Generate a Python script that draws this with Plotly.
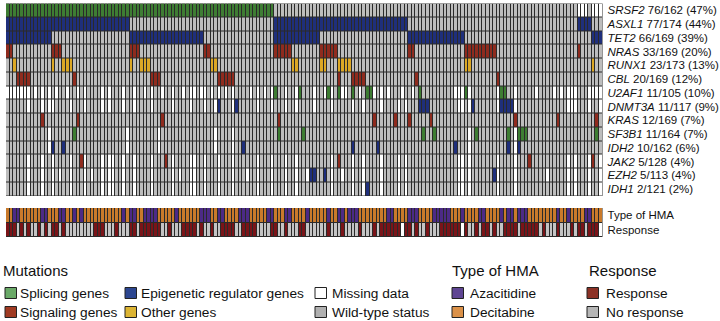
import plotly.graph_objects as go

W, H = 720, 321
N = 169

genes = ["SRSF2", "ASXL1", "TET2", "NRAS", "RUNX1", "CBL", "U2AF1", "DNMT3A",
         "KRAS", "SF3B1", "IDH2", "JAK2", "EZH2", "IDH1"]
stats = ["76/162 (47%)", "77/174 (44%)", "66/169 (39%)", "33/169 (20%)", "23/173 (13%)",
         "20/169 (12%)", "11/105 (10%)", "11/117 (9%)", "12/169 (7%)", "11/164 (7%)",
         "10/162 (6%)", "5/128 (4%)", "5/113 (4%)", "2/121 (2%)"]
gene_class = ["S", "E", "E", "K", "O", "K", "S", "E", "K", "S", "E", "K", "E", "E"]

def r(a, b):
    return list(range(a, b + 1))

mutated = {
    "SRSF2": r(0, 75),
    "ASXL1": r(0, 34) + r(76, 113) + r(162, 165),
    "TET2": r(0, 12) + r(35, 55) + r(76, 88) + r(114, 129) + r(166, 168),
    "NRAS": [0, 1, 13, 14, 15, 35, 36, 37, 56, 57] + r(76, 80) + r(89, 93) + [114, 115] + r(130, 138) + [162],
    "RUNX1": [2, 13, 16, 17, 18, 35, 38, 39, 40, 58, 59, 81, 82, 89, 90, 94, 95, 96, 97, 130, 131, 166],
    "CBL": [3, 4, 5, 6, 19, 41, 42, 43] + r(60, 64) + [94, 98, 99, 100, 101, 116, 139],
    "U2AF1": [76, 83, 91, 94, 98, 102, 103, 117, 130, 140, 141],
    "DNMT3A": [60, 65, 117, 118, 119, 132, 140, 141, 142, 143],
    "KRAS": [10, 20, 44, 77, 104, 110, 114, 120, 144, 156, 167],
    "SF3B1": [19, 77, 84, 118, 121, 133, 142, 145, 146, 147, 167],
    "IDH2": [13, 16, 67, 98, 105, 127, 142, 145],
    "JAK2": [21, 45, 94, 148, 166],
    "EZH2": [86, 87, 90, 138],
    "IDH1": [102],
}

missing = {
    "SRSF2": [162, 163, 164, 166, 167, 168],
    "ASXL1": [], "TET2": [], "NRAS": [], "RUNX1": [], "CBL": [],
    "U2AF1": [0, 1, 2, 3, 4, 5, 6, 8, 10, 12, 14, 17, 20, 22, 27, 29, 33, 36, 39, 41, 44, 47, 50, 52, 53,
              55, 56, 58, 60, 62, 64, 69, 71, 73, 75, 79, 82, 87, 90, 92, 95, 96, 100, 104, 106, 108, 112, 115,
              127, 128, 129, 131, 139, 144, 150, 155, 157, 159, 160, 161, 165, 166, 167, 168],
    "DNMT3A": [6, 10, 12, 13, 18, 22, 27, 29, 33, 36, 41, 47, 52, 56, 59, 64, 71, 75, 79, 82, 87, 92, 98, 101,
               106, 111, 113, 128, 129, 131, 139, 144, 159, 160, 161, 165, 168],
    "KRAS": [],
    "SF3B1": [12, 34, 43, 59, 64, 131, 144],
    "IDH2": [12, 34, 43, 59, 64, 131, 144],
    "JAK2": [6, 10, 13, 18, 22, 27, 29, 30, 33, 36, 41, 47, 52, 53, 56, 60, 64, 71, 75, 79, 82, 92, 98, 101,
             106, 111, 113, 128, 129, 131, 139, 144, 159, 161, 165, 168],
    "EZH2": [6, 10, 13, 15, 18, 22, 24, 27, 29, 30, 33, 36, 41, 47, 49, 52, 53, 56, 60, 64, 68, 71, 75, 79, 82,
             85, 92, 95, 98, 101, 106, 111, 113, 128, 129, 131, 139, 144, 153, 159, 161, 165, 168],
    "IDH1": [6, 10, 13, 18, 22, 27, 29, 30, 33, 36, 41, 47, 52, 53, 56, 60, 64, 71, 75, 79, 82, 92, 98, 101,
             106, 111, 113, 128, 129, 131, 139, 144, 159, 161, 165, 168],
}

azacitidine = [2, 3, 10, 11, 15, 16, 19, 21, 33, 35, 36, 39, 40, 41, 42, 48, 55, 56, 57, 60, 61, 66, 67, 68,
               74, 75, 79, 80, 85, 91, 94, 95, 97, 98, 99, 108, 109, 114, 115, 116, 121, 122, 123, 124, 125,
               129, 134, 135, 140, 142, 143, 145, 146, 147, 156, 159, 164, 165]
no_response = [3, 5, 7, 8, 10, 12, 15] + r(17, 24) + [28, 29, 30, 32, 33, 34, 37, 44, 45, 47, 48, 49, 54, 56, 57,
               59, 60, 65, 66, 71, 72, 73, 74, 77, 78, 80, 81, 82] + r(85, 90) + [92, 93, 94, 96, 97, 98, 99,
               101, 102, 103, 105, 115, 117, 118, 120, 121, 122, 131, 132, 134, 137, 139, 140, 145, 151,
               153, 154, 155, 157, 158, 159, 161, 164]
response_missing = [112, 129, 168]

# cell codes: 0 wild-type, 1 missing, 2 splicing, 3 epigenetic, 4 signaling, 5 other
class_code = {"S": 2, "E": 3, "K": 4, "O": 5}
z_mut = []
for g, c in zip(genes, gene_class):
    row = [0] * N
    for i in missing[g]:
        row[i] = 1
    for i in mutated[g]:
        row[i] = class_code[c]
    z_mut.append(row)

# lower block: 0 no response, 1 missing, 2 response, 3 azacitidine, 4 decitabine
z_hma = [3 if i in azacitidine else 4 for i in range(N)]
z_resp = [1 if i in response_missing else 0 if i in no_response else 2 for i in range(N)]

def steps(cols):
    n = len(cols)
    out = []
    for i, c in enumerate(cols):
        out += [[i / n, c], [(i + 1) / n, c]]
    return out

mut_colors = ["#bdbdbd", "#ffffff", "#3e7d33", "#1f2f7c", "#8f2b1e", "#dca826"]
low_colors = ["#c4c4c4", "#ffffff", "#7a1418", "#4c2a86", "#c97a2b"]
GRID = "#2a2a2a"
PLOT_L, PLOT_R = 6, 602.5

fig = go.Figure()
fig.add_trace(go.Heatmap(z=z_mut, zmin=-0.5, zmax=5.5, colorscale=steps(mut_colors), showscale=False,
                         xgap=1, ygap=1, xaxis="x", yaxis="y", hoverinfo="skip"))
fig.add_trace(go.Heatmap(z=[z_hma, z_resp], zmin=-0.5, zmax=4.5, colorscale=steps(low_colors), showscale=False,
                         xgap=1, ygap=1, xaxis="x2", yaxis="y2", hoverinfo="skip"))

label_font = dict(family="Liberation Sans", size=11.5, color="#111111")
gene_ticks = ["<i>%s</i> %s" % (g, s) for g, s in zip(genes, stats)]

def ydom(top, bottom):
    return [1 - bottom / H, 1 - top / H]

xdom = [PLOT_L / W, PLOT_R / W]
fig.update_layout(
    width=W, height=H, margin=dict(l=0, r=0, t=0, b=0), paper_bgcolor="white", plot_bgcolor=GRID,
    xaxis=dict(domain=xdom, range=[-0.5, N - 0.5], visible=False, fixedrange=True),
    xaxis2=dict(domain=xdom, range=[-0.5, N - 0.5], visible=False, fixedrange=True, anchor="y2"),
    yaxis=dict(domain=ydom(3.5, 196), range=[len(genes) - 0.5, -0.5], side="right", anchor="x", tickmode="array",
               tickvals=list(range(len(genes))), ticktext=gene_ticks, tickfont=label_font, ticklabelstandoff=4,
               showgrid=False, zeroline=False, showline=False, ticks="", ticklen=0, fixedrange=True),
    yaxis2=dict(domain=ydom(208, 237), range=[1.5, -0.5], side="right", anchor="x2", tickmode="array",
                tickvals=[0, 1], ticktext=["Type of HMA", "Response"], tickfont=label_font, ticklabelstandoff=4,
                showgrid=False, zeroline=False, showline=False, ticks="", ticklen=0, fixedrange=True),
    showlegend=False,
)

legend_titles = [("Mutations", 1), ("Type of HMA", 450), ("Response", 587)]
legend_items = [
    ("Splicing genes", "#6aa968", 5, 293, 13), ("Signaling genes", "#a03a22", 5, 312, 13),
    ("Epigenetic regulator genes", "#2c4690", 125, 293, 14), ("Other genes", "#dcb433", 125, 312, 14),
    ("Missing data", "#ffffff", 315, 293, 15), ("Wild-type status", "#b0b0b0", 315, 312, 15),
    ("Azacitidine", "#5f4593", 452, 293, 16), ("Decitabine", "#db9148", 452, 312, 16),
    ("Response", "#8c3226", 587, 293, 17), ("No response", "#b6b6b6", 587, 312, 17),
]

for t, x in legend_titles:
    fig.add_annotation(text=t, x=x / W, y=1 - 270 / H, xref="paper", yref="paper", xanchor="left", yanchor="middle",
                       showarrow=False, font=dict(family="Liberation Sans", size=15, color="#111111"))
for t, col, x, y, off in legend_items:
    fig.add_shape(type="rect", xref="paper", yref="paper", x0=x / W, x1=(x + 11.5) / W, y0=1 - (y + 5.5) / H,
                  y1=1 - (y - 5.5) / H, fillcolor=col, line=dict(color="#222222", width=1))
    fig.add_annotation(text=t, x=(x + off) / W, y=1 - y / H, xref="paper", yref="paper", xanchor="left",
                       yanchor="middle", showarrow=False, font=dict(family="Liberation Sans", size=13.7, color="#111111"))

fig.write_html("out.html", config={"displayModeBar": False},
               post_script="document.body.style.margin='0';document.documentElement.style.overflow='hidden';")
